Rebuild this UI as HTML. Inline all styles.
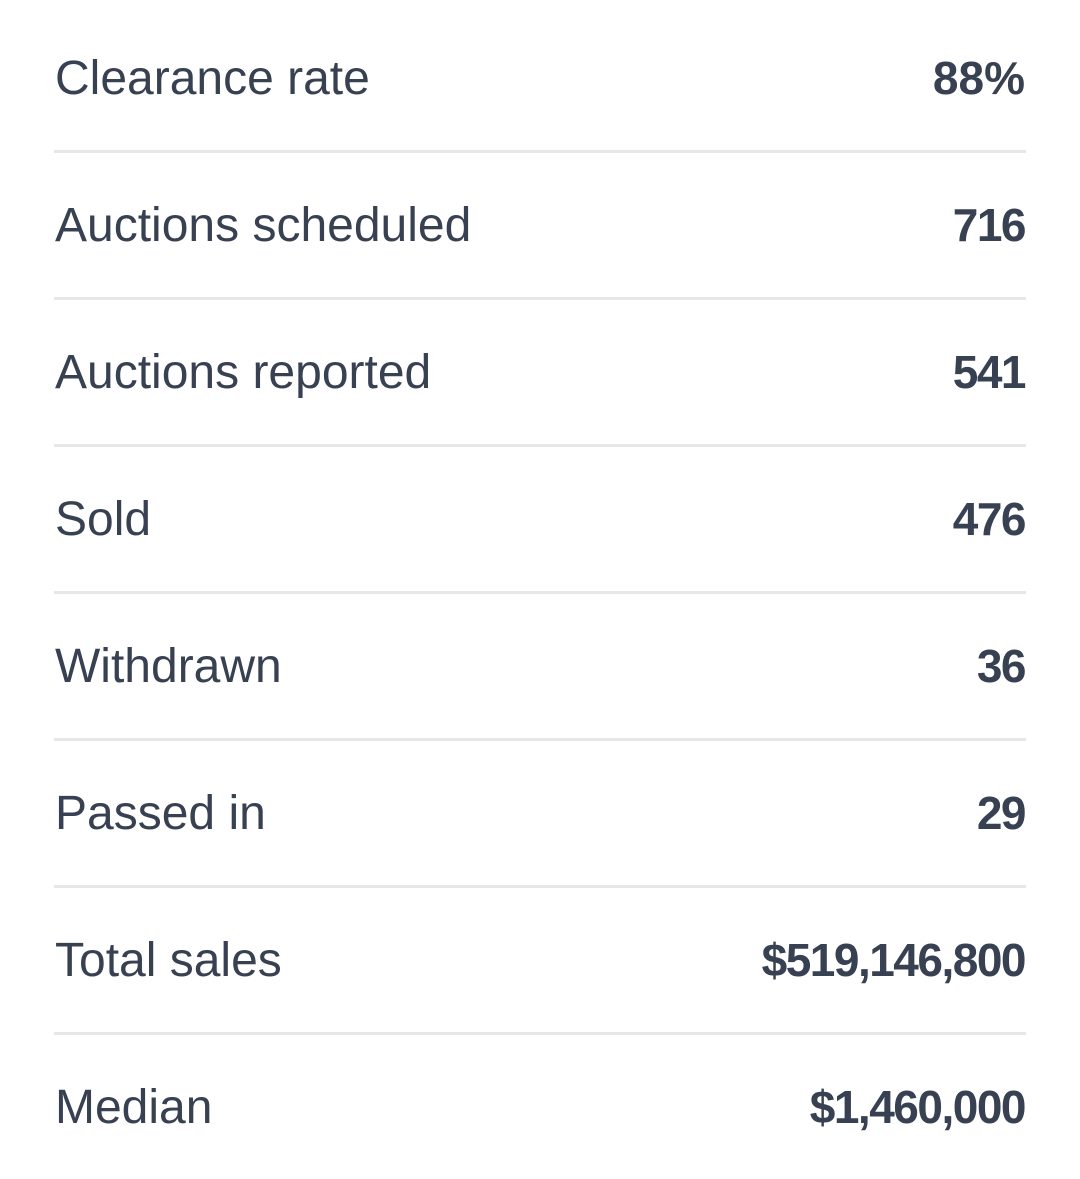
<!DOCTYPE html>
<html><head><meta charset="utf-8"><style>
html,body{margin:0;padding:0;background:#fff;width:1080px;height:1177px;overflow:hidden}
.list{position:absolute;left:54px;top:6px;width:972px}
.row{height:144px;border-bottom:3px solid #e6e7e9;display:flex;align-items:center;justify-content:space-between;font-family:"Liberation Sans",sans-serif;color:#384152}
.row:last-child{border-bottom:none}
.label{font-size:48px;margin-left:1px}
.value{font-size:46px;font-weight:bold;letter-spacing:-1.5px;margin-right:1px}
</style></head><body>
<div class="list">
<div class="row"><span class="label">Clearance rate</span><span class="value" style="letter-spacing:0">88%</span></div>
<div class="row"><span class="label">Auctions scheduled</span><span class="value">716</span></div>
<div class="row"><span class="label">Auctions reported</span><span class="value">541</span></div>
<div class="row"><span class="label">Sold</span><span class="value">476</span></div>
<div class="row"><span class="label">Withdrawn</span><span class="value">36</span></div>
<div class="row"><span class="label">Passed in</span><span class="value">29</span></div>
<div class="row"><span class="label">Total sales</span><span class="value">$519,146,800</span></div>
<div class="row"><span class="label">Median</span><span class="value">$1,460,000</span></div>
</div>
</body></html>
